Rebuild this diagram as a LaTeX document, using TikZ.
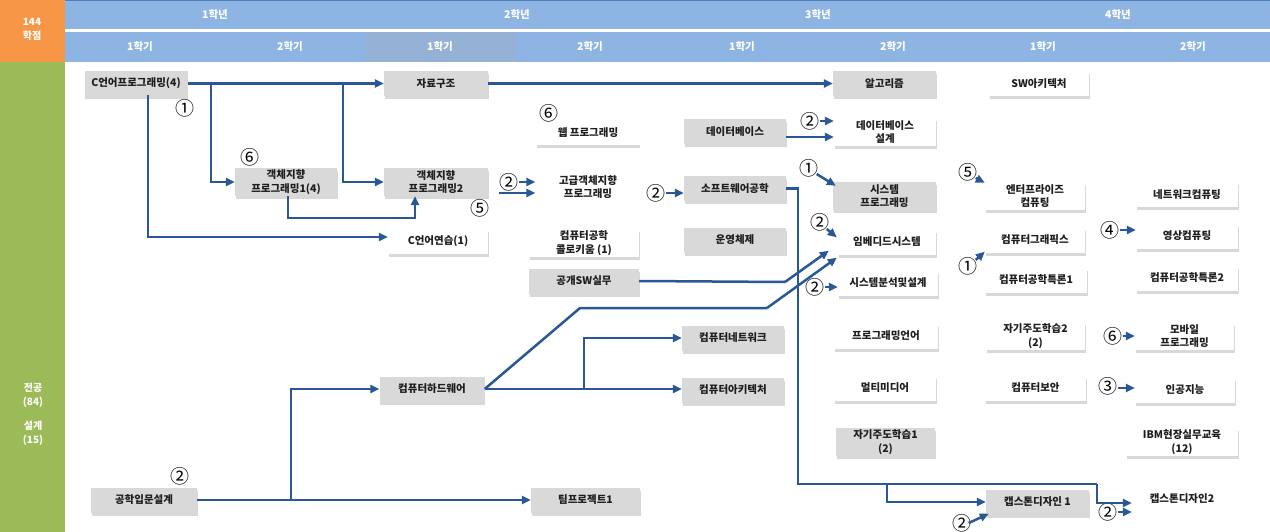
\documentclass[tikz,border=0pt]{standalone}
\usepackage{fontspec}
\setmainfont{Noto Sans CJK KR}
\usetikzlibrary{arrows.meta,shadows}
\definecolor{hdr}{RGB}{141,180,226}
\definecolor{hdrsel}{RGB}{149,178,214}
\definecolor{hdrline}{RGB}{79,129,189}
\definecolor{org}{RGB}{247,150,70}
\definecolor{grn}{RGB}{155,187,89}
\definecolor{boxgray}{RGB}{217,217,217}
\definecolor{lnblue}{RGB}{42,88,150}
\definecolor{txt}{RGB}{30,30,30}
\tikzset{
  box/.style={draw=none, inner sep=1pt, minimum height=25pt, align=center,
    font=\bfseries\fontsize{10.5}{13.5}\selectfont, text=txt,
    drop shadow={shadow xshift=0.5pt, shadow yshift=-3pt, fill=black!30}},
  gbox/.style={box, fill=boxgray},
  wbox/.style={box, fill=white},
  tbox/.style={draw=none, inner sep=1pt, minimum height=25pt, align=center,
    font=\bfseries\fontsize{10.5}{13.5}\selectfont, text=txt},
  num/.style={font=\fontsize{19}{19}\selectfont, inner sep=0pt, text=black},
  hd/.style={text=white, font=\bfseries\fontsize{10.5}{12}\selectfont},
  side/.style={text=white, align=center, font=\bfseries\fontsize{10}{14}\selectfont},
  arr/.style={draw=lnblue, line width=2.5pt, -{Triangle[length=9pt,width=8pt]}},
  ln/.style={draw=lnblue, line width=2.5pt},
}
\begin{document}
\begin{tikzpicture}[x=1pt,y=-1pt]
\useasboundingbox (0,0) rectangle (1270,532);
\fill[white] (0,0) rectangle (1270,532);
% header
\fill[hdr] (65,0) rectangle (1270,29.5);
\fill[hdr] (65,32) rectangle (1270,62);
\fill[hdrsel] (365.6,32) rectangle (516,62);
\draw[hdrline, line width=1pt] (65,0.5) -- (1270,0.5);
\fill[org] (0,0) rectangle (65,62);
\fill[grn] (0,62) rectangle (65,532);
\node[side] (credits) at (32,29) {144\\학점};
\node[side] (major) at (33,395) {전공\\(84)};
\node[side] (design) at (33,433) {설계\\(15)};
\node[hd] (yr1) at (215,15) {1학년};
\node[hd] (yr2) at (517,15) {2학년};
\node[hd] (yr3) at (818,15) {3학년};
\node[hd] (yr4) at (1118,15) {4학년};
\node[hd] (s1) at (140,47) {1학기};
\node[hd] (s2) at (290,47) {2학기};
\node[hd] (s3) at (440,47) {1학기};
\node[hd] (s4) at (590,47) {2학기};
\node[hd] (s5) at (742,47) {1학기};
\node[hd] (s6) at (893,47) {2학기};
\node[hd] (s7) at (1043,47) {1학기};
\node[hd] (s8) at (1193,47) {2학기};
% gray boxes
\node[gbox,minimum width=103pt] (cprog) at (136,83.5) {C언어프로그래밍(4)};
\node[gbox,minimum width=104pt] (ds) at (436,83.5) {자료구조};
\node[gbox,minimum width=102pt,minimum height=28pt] (oop1) at (286,182) {객체지향\\프로그래밍1(4)};
\node[gbox,minimum width=104pt,minimum height=28pt] (oop2) at (436,182) {객체지향\\프로그래밍2};
\node[gbox,minimum width=103pt] (algo) at (884.5,83.5) {알고리즘};
\node[gbox,minimum width=102pt] (db) at (735,131.5) {데이터베이스};
\node[gbox,minimum width=102pt] (se) at (735,188.5) {소프트웨어공학};
\node[gbox,minimum width=103pt,minimum height=28pt] (sysprog) at (884.5,196) {시스템\\프로그래밍};
\node[gbox,minimum width=102pt] (os) at (735,240) {운영체제};
\node[gbox,minimum width=110pt] (oss) at (584,281) {공개SW실무};
\node[gbox,minimum width=105pt] (hw) at (432,389) {컴퓨터하드웨어};
\node[gbox,minimum width=102pt] (net) at (733,338) {컴퓨터네트워크};
\node[gbox,minimum width=102pt] (arch) at (733,390) {컴퓨터아키텍처};
\node[gbox,minimum width=99pt,minimum height=28pt] (self1) at (885.5,442) {자기주도학습1\\(2)};
\node[gbox,minimum width=106pt] (intro) at (144,500) {공학입문설계};
\node[gbox,minimum width=109pt] (team1) at (585.5,500) {팀프로젝트1};
\node[gbox,minimum width=103pt] (cap1) at (1037.5,502) {캡스톤디자인 1};
% white boxes
\node[wbox,minimum width=103pt] (web) at (588,133) {웹 프로그래밍};
\node[wbox,minimum width=100pt] (cpra) at (438,241) {C언어연습(1)};
\node[wbox,minimum width=110pt,minimum height=28pt] (coll) at (584,243) {컴퓨터공학\\콜로키움 (1)};
\node[wbox,minimum width=100pt] (swarch) at (1039,84) {SW아키텍처};
\node[wbox,minimum width=102pt,minimum height=28pt] (dbd) at (885,132) {데이터베이스\\설계};
\node[wbox,minimum width=100pt,minimum height=28pt] (ent) at (1035,196) {엔터프라이즈\\컴퓨팅};
\node[wbox,minimum width=102pt] (netcomp) at (1187,195) {네트워크컴퓨팅};
\node[wbox,minimum width=98pt] (emb) at (887,242) {임베디드시스템};
\node[wbox,minimum width=100pt] (cg) at (1035,240) {컴퓨터그래픽스};
\node[wbox,minimum width=102pt] (img) at (1187,236) {영상컴퓨팅};
\node[wbox,minimum width=100pt] (sad) at (888,283) {시스템분석및설계};
\node[wbox,minimum width=102pt] (ce1) at (1036,280) {컴퓨터공학특론1};
\node[wbox,minimum width=102pt] (ce2) at (1187,278) {컴퓨터공학특론2};
\node[wbox,minimum width=104pt] (pl) at (886,336) {프로그래밍언어};
\node[wbox,minimum width=99pt,minimum height=28pt] (self2) at (1035.5,336) {자기주도학습2\\(2)};
\node[wbox,minimum width=99pt,minimum height=27pt] (mobile) at (1184.5,336) {모바일\\프로그래밍};
\node[wbox,minimum width=102pt] (mm) at (885,388) {멀티미디어};
\node[wbox,minimum width=101pt] (sec) at (1035.5,388) {컴퓨터보안};
\node[wbox,minimum width=100pt] (ai) at (1185,390) {인공지능};
\node[wbox,minimum width=112pt,minimum height=28pt] (ibm) at (1182,442) {IBM현장실무교육\\(12)};
% text-only
\node[tbox,minimum width=105pt,minimum height=28pt] (adv) at (588,187) {고급객체지향\\프로그래밍};
\node[tbox,minimum width=100pt] (cap2) at (1182,499) {캡스톤디자인2};
% circled numbers
\node[num] (n1) at (185,108) {①};
\node[num] (n2) at (250,157) {⑥};
\node[num] (n3) at (480,208) {⑤};
\node[num] (n4) at (509,182) {②};
\node[num] (n5) at (549,113) {⑥};
\node[num] (n6) at (656,193) {②};
\node[num] (n7) at (810,121) {②};
\node[num] (n8) at (809,168) {①};
\node[num] (n9) at (820,222) {②};
\node[num] (n10) at (815,287) {②};
\node[num] (n11) at (968,172) {⑤};
\node[num] (n12) at (1110,230) {④};
\node[num] (n13) at (968,266) {①};
\node[num] (n14) at (1113,336) {⑥};
\node[num] (n15) at (1108,386) {③};
\node[num] (n16) at (180,476) {②};
\node[num] (n17) at (962,523) {②};
\node[num] (n18) at (1108,512) {②};
% junction coordinates
\coordinate (j1) at (211,84);
\coordinate (j2) at (343,84);
\coordinate (j3) at (148,95.5);
\coordinate (j4) at (415,218);
\coordinate (k1) at (785,282);
\coordinate (k2) at (580,308);
\coordinate (k3) at (767,308);
\coordinate (k4) at (584,390);
\coordinate (k5) at (291,501);
\coordinate (m1) at (798,188.5);
\coordinate (m2) at (798,484);
\coordinate (m3) at (1097,484);
\coordinate (m4) at (887,484);
% connectors
\draw[arr] (cprog.east) -- (cprog.east -| ds.west);
\draw[arr] (j1) |- (oop1.west);
\draw[arr] (j2) |- (oop2.west);
\draw[arr] (j3) |- ([yshift=4pt]cpra.west);
\draw[arr] ([xshift=2pt]oop1.south) |- (j4) -- (j4 |- oop2.south);
\draw[arr] (ds.east) -- (ds.east -| algo.west);
\draw[arr] (n4.east) -- (n4.east -| adv.west);
\draw[arr] ([xshift=11pt,yshift=-11pt]oop2.east) -- ([yshift=-11pt]oop2.east -| adv.west);
\draw[arr] (n6.east) -- (n6.east -| se.west);
\draw[arr] (n7.east) -- (n7.east -| dbd.west);
\draw[arr] ([yshift=-5.5pt]db.east) -- ([yshift=-5.5pt]db.east -| dbd.west);
\draw[arr] ([xshift=-2pt,yshift=3pt]n8.south east) -- ([xshift=3pt,yshift=-4pt]sysprog.north west);
\draw[arr] ([xshift=-3pt,yshift=2pt]n9.south east) -- ([xshift=-1pt,yshift=-8pt]emb.north west);
\draw[arr] (n10.east) -- (n10.east -| sad.west);
\draw[ln] (oss.east) -- (k1);
\draw[arr] (k1) -- ([xshift=-9pt,yshift=4pt]emb.south west);
\draw[ln] (hw.east) -- (k2) -- (k3);
\draw[arr] (k3) -- ([xshift=-1pt,yshift=-3pt]emb.south west);
\draw[arr] (hw.east) -- (hw.east -| arch.west);
\draw[arr] (k4) |- (net.west);
\draw[arr] (intro.east) -- (intro.east -| team1.west);
\draw[arr] (k5) |- (hw.west);
\draw[ln] (se.east) -- (m1) -- (m2) -- (m3);
\draw[arr] (m3) |- ([yshift=-4pt]cap2.west);
\draw[arr] (m4) |- (cap1.west);
\draw[arr] ([xshift=-3pt]n17.east) -- ([xshift=3pt,yshift=1pt]cap1.south west);
\draw[arr] (n18.east) -- (n18.east -| cap2.west);
\draw[arr] ([xshift=-2pt,yshift=3pt]n11.south east) -- ([yshift=-1pt]ent.north west);
\draw[arr] (n12.east) -- (n12.east -| img.west);
\draw[arr] ([xshift=-2pt,yshift=-3pt]n13.north east) -- ([yshift=1pt]cg.south west);
\draw[arr] (n14.east) -- (n14.east -| mobile.west);
\draw[arr] ([yshift=-2pt]n15.east) -- ([yshift=-2pt]n15.east -| ai.west);
\end{tikzpicture}
\end{document}
